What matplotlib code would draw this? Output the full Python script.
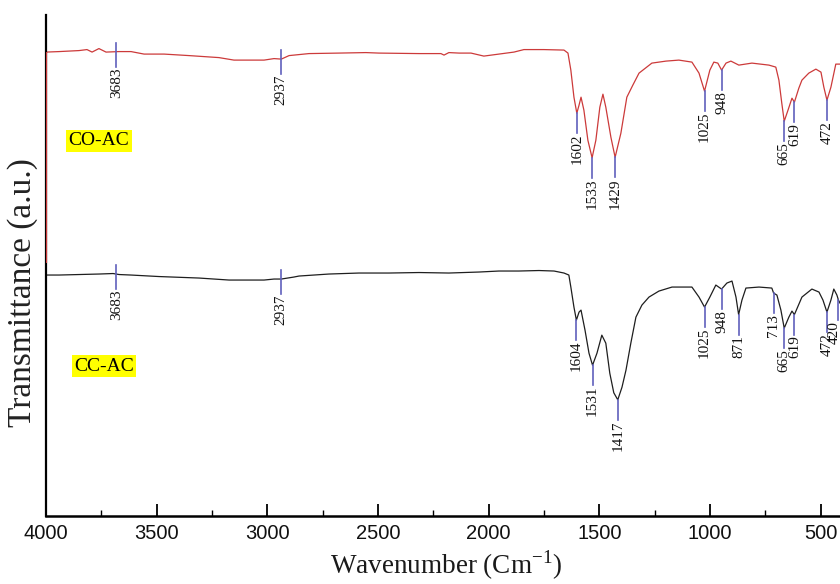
import numpy as np
import matplotlib
matplotlib.use("Agg")
import matplotlib.pyplot as plt
from matplotlib.ticker import MultipleLocator

plt.rcParams['font.family'] = 'Liberation Serif'
plt.rcParams['mathtext.fontset'] = 'custom'
plt.rcParams['mathtext.rm'] = 'Liberation Serif'

# FTIR spectra: wavenumber (cm-1) and transmittance (a.u.)
co_wn = [4000, 3941, 3851, 3815, 3792, 3761, 3729, 3670, 3616, 3557, 3467, 3354,
         3219, 3151, 3015, 2970, 2937, 2902, 2812, 2677, 2555, 2496, 2315, 2216,
         2202, 2180, 2134, 2080, 2022, 1954, 1886, 1841, 1751, 1660, 1642, 1629,
         1615, 1602, 1592, 1583, 1570, 1552, 1533, 1516, 1498, 1484, 1471, 1448,
         1429, 1403, 1376, 1349, 1321, 1263, 1199, 1141, 1082, 1050, 1025, 1001,
         983, 965, 948, 928, 906, 870, 811, 734, 703, 689, 676, 665, 648, 630,
         619, 599, 585, 554, 522, 499, 486, 472, 454, 432, 413]
co_t = [92.6, 92.7, 92.9, 93.1, 92.6, 93.3, 92.6, 92.7, 92.7, 92.2, 92.2, 91.9,
        91.5, 91.0, 91.0, 91.3, 91.2, 91.9, 92.3, 92.4, 92.5, 92.4, 92.3, 92.3,
        92.0, 92.5, 92.4, 92.4, 91.8, 92.2, 92.6, 93.1, 93.1, 93.0, 92.4, 89.0,
        83.6, 80.4, 82.0, 83.6, 81.0, 75.0, 71.5, 75.0, 81.6, 84.2, 81.6, 75.6,
        71.6, 76.4, 83.6, 86.0, 88.4, 90.4, 90.8, 91.0, 90.6, 88.4, 84.8, 89.0,
        90.6, 90.4, 89.0, 90.4, 90.8, 90.0, 90.4, 90.0, 89.6, 87.0, 82.4, 78.8,
        81.0, 83.4, 82.6, 85.4, 87.0, 88.4, 89.2, 88.6, 85.6, 83.0, 85.6, 90.2,
        90.2]

cc_wn = [4000, 3941, 3761, 3697, 3670, 3616, 3490, 3309, 3173, 3015, 2970, 2937,
         2880, 2857, 2722, 2586, 2451, 2315, 2180, 2044, 1954, 1864, 1773, 1705,
         1660, 1638, 1629, 1615, 1604, 1592, 1583, 1565, 1547, 1531, 1511, 1489,
         1471, 1453, 1435, 1417, 1398, 1380, 1358, 1335, 1308, 1276, 1231, 1172,
         1082, 1050, 1025, 1001, 974, 948, 924, 901, 883, 871, 856, 838, 779,
         721, 713, 698, 680, 665, 644, 630, 619, 585, 540, 508, 490, 472, 454,
         441, 427, 420, 413]
cc_t = [48.1, 48.1, 48.3, 48.4, 48.2, 48.1, 47.8, 47.5, 47.1, 47.1, 47.3, 47.3,
        47.7, 47.9, 48.3, 48.5, 48.5, 48.6, 48.5, 48.7, 48.9, 48.9, 49.0, 48.9,
        48.5, 48.1, 45.7, 41.7, 39.1, 40.7, 41.1, 37.1, 32.5, 30.1, 32.5, 36.1,
        34.5, 28.5, 24.6, 23.2, 25.7, 29.1, 34.5, 39.7, 42.1, 43.7, 44.9, 45.7,
        45.7, 43.7, 41.7, 43.7, 46.1, 45.3, 46.5, 46.9, 43.7, 40.2, 43.1, 45.5,
        45.7, 45.5, 44.5, 44.1, 41.1, 37.5, 39.7, 40.9, 40.2, 43.7, 45.3, 44.7,
        43.1, 40.7, 43.1, 45.3, 44.1, 43.1, 42.5]

co_peaks = [3683, 2937, 1602, 1533, 1429, 1025, 948, 665, 619, 472]
cc_peaks = [3683, 2937, 1604, 1531, 1417, 1025, 948, 871, 713, 665, 619, 472, 420]

mark_color = '#6060bc'

fig = plt.figure(figsize=(8.4, 5.84), dpi=100)
ax = fig.add_axes([0.0548, 0.1164, 0.9452, 0.8579])

ax.plot(co_wn, co_t, color='#cc3a3a', lw=0.9)
ax.plot(cc_wn, cc_t, color='#1e1e1e', lw=0.9)
# red trace runs down the left edge as well
ax.vlines(co_wn[0], 50.5, co_t[0], color='#cc3a3a', lw=1.6, zorder=3)


def mark_peaks(wn, t, peaks):
    x = np.asarray(wn)[::-1]
    y = np.asarray(t)[::-1]
    for p in peaks:
        yp = np.interp(p, x, y)
        if p > 2000:
            top, bottom = yp + 1.8, yp - 3.0
        else:
            top, bottom = yp, yp - 4.0
        ax.plot([p, p], [top, bottom], color=mark_color, lw=1.2, zorder=3)
        # last label sits against the right edge, nudge it inwards
        dx = -3 if p < 430 else 0
        ax.annotate(str(p), (p, bottom), xytext=(dx, -0.5), textcoords='offset points',
                    rotation=90, ha='center', va='top', fontsize=11, color='#111111')


mark_peaks(co_wn, co_t, co_peaks)
mark_peaks(cc_wn, cc_t, cc_peaks)

box = dict(boxstyle='square,pad=0.12', fc='#ffff00', ec='none')
ax.text(3761, 74.9, 'CO-AC', ha='center', va='center', fontsize=14, bbox=box)
ax.text(3739, 29.9, 'CC-AC', ha='center', va='center', fontsize=14, bbox=box)

ax.set_xlim(4000, 413)
ax.set_ylim(0, 100)
ax.set_xticks(np.arange(4000, 400, -500))
ax.xaxis.set_minor_locator(MultipleLocator(250))
ax.set_yticks([])
ax.tick_params(axis='x', which='major', direction='in', length=9, width=1.3, pad=6)
ax.tick_params(axis='x', which='minor', direction='in', length=4.5, width=1.0)
for lab in ax.get_xticklabels():
    lab.set_family('Liberation Sans')
    lab.set_fontsize(14.5)
    lab.set_color('#111111')

for side in ('top', 'right'):
    ax.spines[side].set_visible(False)
ax.spines['left'].set_linewidth(1.6)
ax.spines['bottom'].set_linewidth(1.8)

ax.set_xlabel('Wavenumber (Cm$^{\\mathregular{-1}}$)', fontsize=19.5, color='#1a1a1a')
ax.xaxis.set_label_coords(0.504, -0.064)
ax.set_ylabel('Transmittance (a.u.)', fontsize=24, color='#222222', va='center')
ax.yaxis.set_label_coords(-0.030, 0.447)

fig.savefig('out.png', dpi=100)
